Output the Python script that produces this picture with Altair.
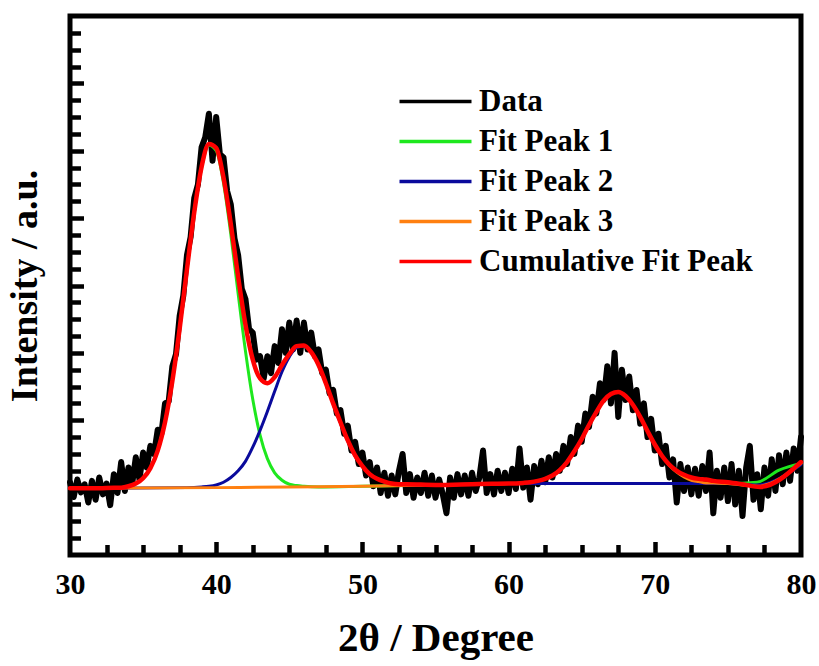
import altair as alt
import pandas as pd

# ---------------- data ----------------
data_x = [
    30.00, 30.25, 30.50, 30.75, 31.00, 31.25, 31.50, 31.75, 32.00, 32.25, 32.50, 32.75, 33.00, 33.25, 33.50, 33.75, 34.00, 34.25, 34.50, 34.75,
    35.00, 35.25, 35.50, 35.75, 36.00, 36.25, 36.50, 36.75, 37.00, 37.25, 37.50, 37.75, 38.00, 38.25, 38.50, 38.75, 39.00, 39.25, 39.50, 39.75,
    40.00, 40.25, 40.50, 40.75, 41.00, 41.25, 41.50, 41.75, 42.00, 42.25, 42.50, 42.75, 43.00, 43.25, 43.50, 43.75, 44.00, 44.25, 44.50, 44.75,
    45.00, 45.25, 45.50, 45.75, 46.00, 46.25, 46.50, 46.75, 47.00, 47.25, 47.50, 47.75, 48.00, 48.25, 48.50, 48.75, 49.00, 49.25, 49.50, 49.75,
    50.00, 50.25, 50.50, 50.75, 51.00, 51.25, 51.50, 51.75, 52.00, 52.25, 52.50, 52.75, 53.00, 53.25, 53.50, 53.75, 54.00, 54.25, 54.50, 54.75,
    55.00, 55.25, 55.50, 55.75, 56.00, 56.25, 56.50, 56.75, 57.00, 57.25, 57.50, 57.75, 58.00, 58.25, 58.50, 58.75, 59.00, 59.25, 59.50, 59.75,
    60.00, 60.25, 60.50, 60.75, 61.00, 61.25, 61.50, 61.75, 62.00, 62.25, 62.50, 62.75, 63.00, 63.25, 63.50, 63.75, 64.00, 64.25, 64.50, 64.75,
    65.00, 65.25, 65.50, 65.75, 66.00, 66.25, 66.50, 66.75, 67.00, 67.25, 67.50, 67.75, 68.00, 68.25, 68.50, 68.75, 69.00, 69.25, 69.50, 69.75,
    70.00, 70.25, 70.50, 70.75, 71.00, 71.25, 71.50, 71.75, 72.00, 72.25, 72.50, 72.75, 73.00, 73.25, 73.50, 73.75, 74.00, 74.25, 74.50, 74.75,
    75.00, 75.25, 75.50, 75.75, 76.00, 76.25, 76.50, 76.75, 77.00, 77.25, 77.50, 77.75, 78.00, 78.25, 78.50, 78.75, 79.00, 79.25, 79.50, 79.75,
    80.00,
]
data_y = [
    1.08, 0.86, 1.12, 0.93, 1.05, 0.78, 1.10, 0.82, 1.15, 0.90, 1.06, 0.74, 1.20, 0.92, 1.38, 0.95, 1.30, 1.05, 1.45, 1.12,
    1.52, 1.30, 1.62, 1.50, 1.86, 1.80, 2.25, 2.28, 2.80, 2.98, 3.55, 3.85, 4.45, 4.72, 5.30, 5.50, 6.05, 6.20, 6.55, 5.85,
    6.50, 5.95, 5.90, 5.40, 5.20, 4.70, 4.45, 3.95, 3.80, 3.35, 3.30, 2.90, 2.95, 2.62, 2.95, 2.70, 3.10, 2.85, 3.35, 3.00,
    3.45, 3.05, 3.48, 3.00, 3.45, 3.05, 3.30, 2.95, 3.05, 2.70, 2.75, 2.40, 2.45, 2.10, 2.15, 1.80, 1.92, 1.55, 1.68, 1.35,
    1.52, 1.18, 1.38, 1.02, 1.30, 0.92, 1.22, 0.88, 1.18, 0.90, 1.25, 1.50, 0.92, 1.20, 0.85, 1.15, 0.92, 1.22, 0.88, 1.18,
    0.85, 1.12, 0.90, 0.62, 1.15, 0.85, 1.20, 0.90, 1.18, 0.88, 1.22, 0.95, 1.15, 1.55, 0.92, 1.20, 0.90, 1.25, 0.95, 1.22,
    0.92, 1.28, 0.98, 1.58, 1.00, 1.30, 0.82, 1.32, 1.05, 1.40, 1.08, 1.45, 1.15, 1.50, 1.25, 1.62, 1.35, 1.75, 1.50, 1.92,
    1.68, 2.10, 1.90, 2.35, 2.10, 2.55, 2.30, 2.80, 2.25, 3.00, 2.05, 2.75, 2.30, 2.65, 2.15, 2.45, 1.95, 2.25, 1.75, 2.02,
    1.55, 1.80, 1.35, 1.62, 1.15, 1.42, 0.78, 1.35, 0.95, 1.30, 0.90, 1.28, 0.88, 1.32, 0.95, 1.52, 0.62, 1.25, 0.85, 1.30,
    0.80, 1.35, 0.75, 1.25, 0.58, 1.30, 1.62, 0.82, 1.20, 0.68, 1.30, 0.88, 1.42, 0.95, 1.48, 1.05, 1.52, 1.10, 1.58, 1.25,
    1.75,
]

peak1_x = [30, 32, 33, 33.5, 34, 34.5, 35, 35.5, 36, 36.5, 37, 37.5, 38, 38.5, 39, 39.5, 40, 40.5, 41, 41.5,
           42, 42.5, 43, 43.5, 44, 44.5, 45, 45.5, 46, 47, 50, 55, 60, 73, 75, 77, 78.5, 80]
peak1_y = [0.99, 0.99, 0.99, 1.00, 1.02, 1.06, 1.14, 1.29, 1.55, 1.97, 2.58, 3.36, 4.24, 5.09, 5.75, 6.08, 6.00, 5.52, 4.76, 3.88,
           3.03, 2.31, 1.78, 1.43, 1.22, 1.11, 1.05, 1.03, 1.02, 1.01, 1.02, 1.04, 1.06, 1.06, 1.06, 1.08, 1.26, 1.36]

peak2_x = [30, 38, 39, 39.5, 40, 40.5, 41, 41.5, 42, 42.5, 43, 43.5, 44, 44.5, 45, 45.5, 46, 46.5, 47, 47.5,
           48, 48.5, 49, 49.5, 50, 50.5, 51, 51.5, 52, 52.5, 53, 55, 60, 73, 75, 77, 80]
peak2_y = [0.99, 1.00, 1.01, 1.02, 1.04, 1.08, 1.15, 1.25, 1.39, 1.60, 1.85, 2.13, 2.43, 2.72, 2.94, 3.08, 3.10, 3.01, 2.82, 2.55,
           2.25, 1.96, 1.69, 1.47, 1.32, 1.20, 1.13, 1.08, 1.055, 1.04, 1.035, 1.04, 1.06, 1.06, 1.06, 1.04, 1.34]

peak3_x = [30, 40, 45, 50, 55, 60, 61, 61.5, 62, 62.5, 63, 63.5, 64, 64.5, 65, 65.5, 66, 66.5, 67, 67.5,
           68, 68.5, 69, 69.5, 70, 70.5, 71, 71.5, 72, 72.5, 73, 73.5, 74, 75, 77, 80]
peak3_y = [0.99, 1.00, 1.01, 1.02, 1.04, 1.06, 1.07, 1.08, 1.10, 1.13, 1.18, 1.26, 1.38, 1.54, 1.72, 1.93, 2.12, 2.29, 2.39, 2.42,
           2.36, 2.23, 2.05, 1.84, 1.64, 1.47, 1.33, 1.23, 1.16, 1.11, 1.09, 1.07, 1.07, 1.06, 1.02, 1.36]

cum_x = [30, 32, 33, 33.5, 34, 34.5, 35, 35.5, 36, 36.5, 37, 37.5, 38, 38.5, 39, 39.5, 40, 40.5, 41, 41.5,
         42, 42.5, 43, 43.5, 44, 44.5, 45, 45.5, 46, 46.5, 47, 47.5, 48, 48.5, 49, 49.5, 50, 50.5, 51, 51.5,
         52, 52.5, 53, 55, 58, 60, 61, 61.5, 62, 62.5, 63, 63.5, 64, 64.5, 65, 65.5, 66, 66.5, 67, 67.5,
         68, 68.5, 69, 69.5, 70, 70.5, 71, 71.5, 72, 72.5, 73, 73.5, 74, 75, 76, 77.2, 80]
cum_y = [0.99, 0.99, 1.00, 1.00, 1.02, 1.06, 1.14, 1.29, 1.55, 1.97, 2.58, 3.36, 4.24, 5.09, 5.76, 6.10, 6.04, 5.60, 4.91, 4.13,
         3.42, 2.90, 2.62, 2.55, 2.64, 2.82, 2.98, 3.10, 3.11, 3.01, 2.82, 2.55, 2.25, 1.97, 1.70, 1.48, 1.32, 1.20, 1.13, 1.09,
         1.06, 1.05, 1.05, 1.04, 1.055, 1.06, 1.07, 1.08, 1.10, 1.13, 1.18, 1.26, 1.38, 1.54, 1.72, 1.93, 2.12, 2.29, 2.39, 2.42,
         2.36, 2.23, 2.05, 1.84, 1.64, 1.47, 1.34, 1.25, 1.19, 1.15, 1.13, 1.12, 1.10, 1.08, 1.05, 1.01, 1.38]

series_names = ["Data", "Fit Peak 1", "Fit Peak 2", "Fit Peak 3", "Cumulative Fit Peak"]
series_colors = ["#000000", "#1ee81e", "#0a0a9c", "#ff8010", "#ff0000"]
series_widths = [6.0, 3.0, 3.0, 3.0, 4.5]

x_major_ticks = [30, 40, 50, 60, 70, 80]
x_inner_major = [40, 50, 60, 70]
x_minor_ticks = [32.5, 35, 37.5, 42.5, 45, 47.5, 52.5, 55, 57.5, 62.5, 65, 67.5, 72.5, 75, 77.5]
y_major_ticks = [1, 2, 3, 4, 5, 6, 7]
y_minor_ticks = [0.25, 0.5, 0.75, 1.25, 1.5, 1.75, 2.25, 2.5, 2.75, 3.25, 3.5, 3.75,
                 4.25, 4.5, 4.75, 5.25, 5.5, 5.75, 6.25, 6.5, 6.75, 7.25, 7.5, 7.75]

# ---------------- chart ----------------
W, H = 731, 539
FONT = "Liberation Serif"

xs = alt.Scale(domain=[30, 80], nice=False, zero=False)
ys = alt.Scale(domain=[0, 8], nice=False, zero=False)
cs = alt.Scale(domain=series_names, range=series_colors)

legend = alt.Legend(
    title=None, orient="none", legendX=350, legendY=70,
    symbolType="M-3,0H3", symbolSize=576, symbolStrokeWidth=3.5, symbolOpacity=1,
    symbolFillColor="transparent",
    labelFont=FONT, labelFontSize=31, labelFontWeight="bold", labelColor="black",
    labelOffset=28, rowPadding=8, padding=0, labelLimit=600,
)


def frame(xv, yv, name):
    return pd.DataFrame({"x": xv, "y": yv, "series": name})


axis_x_main = alt.Axis(
    orient="bottom", values=x_major_ticks, format="d", ticks=False, domain=False, grid=False,
    labelFlush=False, labelBound=False, labelOverlap=False,
    labelFont=FONT, labelFontSize=30, labelFontWeight="bold", labelColor="black", labelPadding=14,
    title="2θ / Degree", titleFont=FONT, titleFontSize=41, titleFontWeight="bold",
    titleColor="black", titlePadding=19,
)
axis_y_main = alt.Axis(
    orient="left", labels=False, ticks=False, domain=False, grid=False,
    title="Intensity / a.u.", titleFont=FONT, titleFontSize=38, titleFontWeight="bold",
    titleColor="black", titlePadding=26,
)
axis_x_major = alt.Axis(orient="top", offset=-H, values=x_inner_major, labels=False, domain=False,
                        grid=False, tickSize=13.5, tickWidth=4.5, tickColor="black", title=None)
axis_y_major = alt.Axis(orient="right", offset=-W, values=y_major_ticks, labels=False, domain=False,
                        grid=False, tickSize=13.5, tickWidth=4.5, tickColor="black", title=None)
axis_x_minor = alt.Axis(orient="top", offset=-H, values=x_minor_ticks, labels=False, domain=False,
                        grid=False, tickSize=10.5, tickWidth=4.5, tickColor="black", title=None)
axis_y_minor = alt.Axis(orient="right", offset=-W, values=y_minor_ticks, labels=False, domain=False,
                        grid=False, tickSize=10.5, tickWidth=4.5, tickColor="black", title=None)


def layer(df, xaxis, yaxis, interp, width):
    return alt.Chart(df).mark_line(interpolate=interp, strokeWidth=width,
                                   strokeJoin="round", strokeCap="round").encode(
        x=alt.X("x:Q", scale=xs, axis=xaxis),
        y=alt.Y("y:Q", scale=ys, axis=yaxis),
        color=alt.Color("series:N", scale=cs, legend=legend),
    )


l_data = layer(frame(data_x, data_y, series_names[0]), axis_x_main, axis_y_main, "linear", series_widths[0])
l_p1 = layer(frame(peak1_x, peak1_y, series_names[1]), axis_x_major, axis_y_major, "monotone", series_widths[1])
l_p2 = layer(frame(peak2_x, peak2_y, series_names[2]), axis_x_minor, axis_y_minor, "monotone", series_widths[2])
l_p3 = layer(frame(peak3_x, peak3_y, series_names[3]), None, None, "monotone", series_widths[3])
l_cum = layer(frame(cum_x, cum_y, series_names[4]), None, None, "monotone", series_widths[4])

chart = (
    alt.layer(l_data, l_p1, l_p2, l_p3, l_cum)
    .resolve_axis(x="independent", y="independent")
    .properties(
        width=W, height=H, autosize="none",
        padding={"left": 70, "top": 16, "right": 18, "bottom": 111},
        background="white",
    )
    .configure_view(stroke="black", strokeWidth=5, fill="white")
)

chart.save("out.html", embed_options={"renderer": "svg", "actions": False})
